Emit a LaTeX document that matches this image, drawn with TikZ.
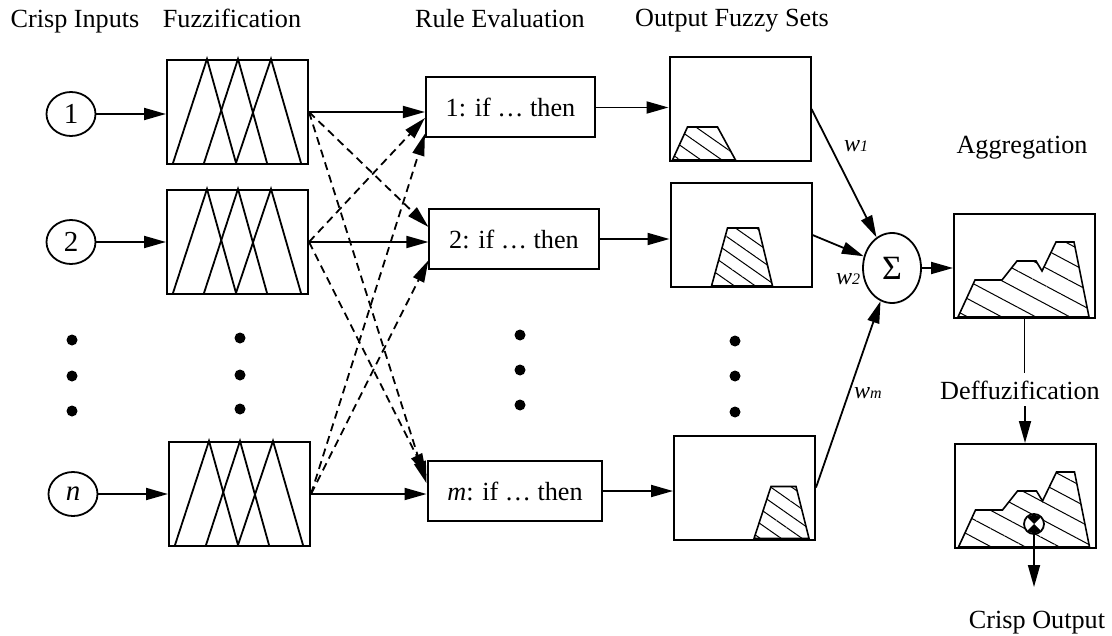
\documentclass[tikz,border=0pt]{standalone}
\usepackage{fontspec}
\setmainfont{Liberation Serif}
\usetikzlibrary{arrows.meta,shapes.geometric,patterns.meta}

\begin{document}
\begin{tikzpicture}[x=0.5pt,y=-0.5pt,
  font=\fontsize{13.1}{15}\selectfont,
  arr/.style={line width=0.9pt,-{Triangle[length=11pt,width=6pt]}},
  link/.style={arr,dash pattern=on 4pt off 2.6pt},
  input/.style={ellipse,draw,line width=0.9pt,minimum width=24.5pt,minimum height=22pt,inner sep=0pt,font=\fontsize{14.5}{16}\selectfont},
  box/.style={draw,line width=1pt,minimum width=70.5pt,minimum height=52pt,inner sep=0pt},
  rule/.style={draw,line width=1pt,minimum height=30pt,inner xsep=9.9pt},
  mf/.style={line width=0.9pt},
  hatch/.style={draw,line width=0.8pt,pattern={Lines[angle=-35,distance=6pt,line width=0.5pt]}},
  weight/.style={font=\fontsize{12}{14}\selectfont\itshape},
  title/.style={anchor=base}]
\useasboundingbox (0,0) rectangle (1112,636);

% column headings
\node [title] (hin) at (75,28) {Crisp Inputs};
\node [title] (hfz) at (232,28) {Fuzzification};
\node [title] (hrule) at (500,28) {Rule Evaluation};
\node [title] (hout) at (732,27) {Output Fuzzy Sets};
\node [title] (hagg) at (1022,154) {Aggregation};
\node [title] (defz) at (1020,399) {Deffuzification};

% inputs
\node [input] (in1) at (71,114) {1};
\node [input] (in2) at (71,242) {2};
\node [input] (inn) at (73,494) {\textit{n}};

% fuzzification
\node [box] (f1) at (237.5,112) {};
\node [box] (f2) at (237.5,242) {};
\node [box] (fn) at (239.5,494) {};
\foreach \f in {f1,f2,fn}{
  \begin{scope}[shift={(\f.north west)}]
    \draw [mf] (7,104) -- (41,0) -- (70,104);
    \draw [mf] (38,104) -- (72,0) -- (101,104);
    \draw [mf] (70,104) -- (105,0) -- (135,104);
  \end{scope}
}

% rules
\node [rule] (r1) at (510.5,107.5) {1: if … then};
\node [rule] (r2) at (514,239) {2: if … then};
\node [rule] (rm) at (515,491) {\textit{m}: if … then};

% output fuzzy sets
\node [box] (o1) at (740,109) {};
\node [box] (o2) at (741,235) {};
\node [box] (om) at (744.5,487.5) {};
\begin{scope}[shift={(o1.north west)}]
  \draw [hatch] (4,104) -- (19,71) -- (49,71) -- (67,104) -- cycle;
\end{scope}
\begin{scope}[shift={(o2.north west)}]
  \draw [hatch] (42,104) -- (58,46) -- (89,46) -- (103,104) -- cycle;
\end{scope}
\begin{scope}[shift={(om.north west)}]
  \draw [hatch] (81,104) -- (98,52) -- (123,52) -- (136,104) -- cycle;
\end{scope}

% vertical dots
\foreach \x/\ya/\yb/\yc in {72/340/376/411, 240/338/375/409, 520/335/370/405, 735/341/376/412}
  \foreach \y in {\ya,\yb,\yc}
    \fill (\x,\y) circle (2.75pt);

% sum and weights
\node [ellipse,draw,line width=0.9pt,minimum width=29pt,minimum height=35pt,inner sep=0pt,
  font=\fontsize{17}{20}\selectfont] (sum) at (892,268) {Σ};
\node [weight] (w1) at (856,146) {w{\fontsize{8}{9}\selectfont 1}};
\node [weight] (w2) at (848,279) {w{\fontsize{8}{9}\selectfont 2}};
\node [weight] (wm) at (868,393) {w{\fontsize{8}{9}\selectfont m}};

% aggregation and defuzzification
\node [box] (agg) at (1024.5,266) {};
\node [box] (dbox) at (1025,496) {};
\foreach \b in {agg,dbox}{
  \begin{scope}[shift={(\b.north west)}]
    \draw [hatch,pattern={Lines[angle=-28,distance=8pt,line width=0.5pt]}]
      (5,104) -- (22,67) -- (49,67) -- (64,48) -- (83,48) -- (89,58)
      -- (103,29) -- (121,29) -- (136,104) -- cycle;
  \end{scope}
}
\node [circle,draw,fill=white,line width=0.9pt,minimum size=10pt,inner sep=0pt] (cg) at (1034,524) {};
\begin{scope}
  \clip (cg.center) circle (4.6pt);
  \fill (cg.center) -- ++(-10,-10) -- ++(20,0) -- cycle;
  \fill (cg.center) -- ++(-10,10) -- ++(20,0) -- cycle;
\end{scope}
\node [title] (hcrisp) at (1037,628) {Crisp Output};
\coordinate (crisp) at (1034,587);

% connections
\draw [arr] (in1) -- (in1 -| f1.west);
\draw [arr] (in2) -- (in2 -| f2.west);
\draw [arr] (inn) -- (inn -| fn.west);
\draw [arr] (f1.east) -- (f1.east -| r1.west);
\draw [arr] (f2.east) -- (f2.east -| r2.west);
\draw [arr] (fn.east) -- (fn.east -| rm.west);
\draw [link] (f1.east) -- (r2.172);
\draw [link] (f1.east) -- (rm.175);
\draw [link] (f2.east) -- (r1.187);
\draw [link] (f2.east) -- (rm.170);
\draw [link] (fn.east) -- (r1.197);
\draw [link] (fn.east) -- (r2.194);
\draw [arr] (r1.east) -- (r1.east -| o1.west);
\draw [arr] (r2.east) -- (r2.east -| o2.west);
\draw [arr] (rm.east) -- (rm.east -| om.west);
\draw [arr] (o1.east) -- (sum);
\draw [arr] (o2.east) -- (sum);
\draw [arr] (om.east) -- (sum);
\draw [arr] (sum) -- (sum -| agg.west);
\draw [line width=0.9pt] (agg.south) -- (agg.south |- defz.north);
\draw [arr] (defz.south -| dbox.north) -- (dbox.north);
\draw [arr] (cg) -- (crisp);
\end{tikzpicture}
\end{document}
